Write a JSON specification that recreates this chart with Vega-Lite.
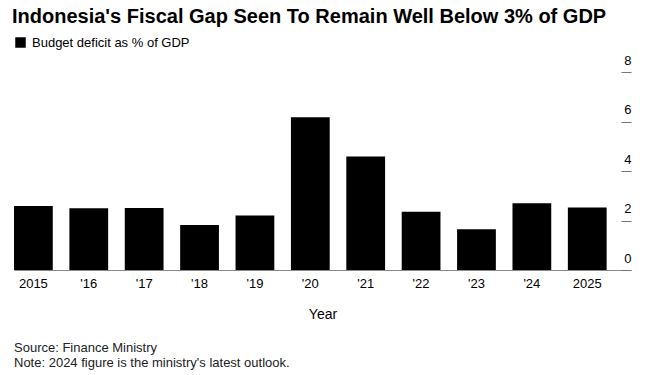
{
  "$schema": "https://vega.github.io/schema/vega-lite/v6.json",
  "background": "white",
  "padding": {"left": 12, "top": 7, "right": 5, "bottom": 5},
  "config": {"view": {"stroke": null}, "font": "Liberation Sans"},
  "title": {
    "text": "Indonesia's Fiscal Gap Seen To Remain Well Below 3% of GDP",
    "anchor": "start",
    "font": "Liberation Sans",
    "fontSize": 20,
    "fontWeight": "bold",
    "color": "#000000",
    "dx": -2,
    "offset": 9
  },
  "spacing": 20,
  "vconcat": [
    {
      "width": 617,
      "height": 198,
      "data": {
        "values": [
          {"year": "2015", "deficit": 2.59},
          {"year": "2016", "deficit": 2.49},
          {"year": "2017", "deficit": 2.51},
          {"year": "2018", "deficit": 1.82},
          {"year": "2019", "deficit": 2.2},
          {"year": "2020", "deficit": 6.17},
          {"year": "2021", "deficit": 4.59},
          {"year": "2022", "deficit": 2.35},
          {"year": "2023", "deficit": 1.65},
          {"year": "2024", "deficit": 2.7},
          {"year": "2025", "deficit": 2.53}
        ]
      },
      "mark": {"type": "bar"},
      "encoding": {
        "x": {
          "field": "year",
          "type": "ordinal",
          "scale": {"paddingInner": 0.3, "paddingOuter": 0.22, "align": 0},
          "axis": {
            "title": "Year",
            "titleFontSize": 14,
            "titleFontWeight": "normal",
            "titleColor": "#000000",
            "titlePadding": 17,
            "labelAngle": 0,
            "labelFontSize": 13,
            "labelColor": "#000000",
            "labelPadding": 7,
            "ticks": false,
            "domainColor": "#888888",
            "domainWidth": 1,
            "labelExpr": "datum.value == '2015' || datum.value == '2025' ? datum.value : \"'\" + slice(datum.value, 2)"
          }
        },
        "y": {
          "field": "deficit",
          "type": "quantitative",
          "scale": {"domain": [0, 8]},
          "axis": {
            "orient": "right",
            "title": null,
            "values": [0, 2, 4, 6, 8],
            "domain": false,
            "grid": false,
            "tickSize": -10,
            "tickColor": "#777777",
            "tickWidth": 1,
            "labelPadding": 10,
            "labelAlign": "right",
            "labelBaseline": "alphabetic",
            "labelOffset": -8,
            "labelFontSize": 13,
            "labelColor": "#000000"
          }
        },
        "color": {
          "datum": "Budget deficit as % of GDP",
          "type": "nominal",
          "scale": {"range": ["#000000"]},
          "legend": {
            "orient": "none",
            "legendX": 0,
            "legendY": -36,
            "title": null,
            "symbolType": "square",
            "symbolSize": 110,
            "symbolStrokeWidth": 0,
            "labelFontSize": 13,
            "labelColor": "#000000",
            "labelOffset": 5
          }
        }
      }
    },
    {
      "width": 617,
      "height": 1,
      "data": {"values": [{"a": 1}]},
      "mark": {"type": "text", "text": ""},
      "title": {
        "text": ["Source: Finance Ministry", "Note: 2024 figure is the ministry's latest outlook."],
        "anchor": "start",
        "orient": "top",
        "font": "Liberation Sans",
        "fontSize": 13,
        "fontWeight": "normal",
        "color": "#222222",
        "lineHeight": 15,
        "offset": 0
      }
    }
  ]
}
